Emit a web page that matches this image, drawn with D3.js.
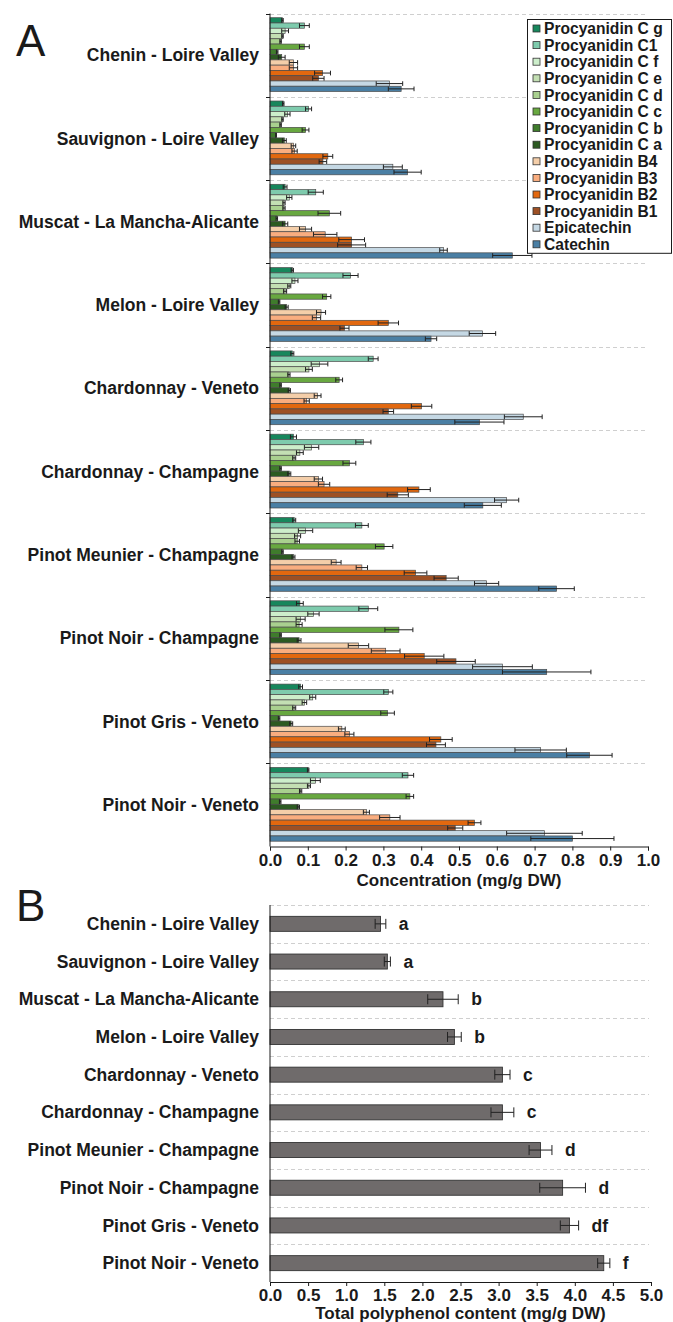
<!DOCTYPE html>
<html>
<head>
<meta charset="utf-8">
<script src="https://cdn.jsdelivr.net/npm/d3@7/dist/d3.min.js"></script>
<style>
  html, body { margin: 0; padding: 0; background: #fff; }
  svg { display: block; }
  text { font-family: "Liberation Sans", Arial, Helvetica, sans-serif; }
</style>
</head>
<body>
<svg id="chart" width="673" height="1322"></svg>
<script>
// Wine samples (cultivar - region), top to bottom
const samples = [
  "Chenin - Loire Valley", "Sauvignon - Loire Valley", "Muscat - La Mancha-Alicante",
  "Melon - Loire Valley", "Chardonnay - Veneto", "Chardonnay - Champagne",
  "Pinot Meunier - Champagne", "Pinot Noir - Champagne", "Pinot Gris - Veneto",
  "Pinot Noir - Veneto"
];

// Compounds, in bar order inside each sample group
const compounds = [
  "Procyanidin C g", "Procyanidin C1", "Procyanidin C f", "Procyanidin C e",
  "Procyanidin C d", "Procyanidin C c", "Procyanidin C b", "Procyanidin C a",
  "Procyanidin B4", "Procyanidin B3", "Procyanidin B2", "Procyanidin B1",
  "Epicatechin", "Catechin"
];
const compoundColors = [
  "#17875c", "#7ecbad", "#cdeecb", "#c3dfb3", "#a9d08f", "#68a840", "#3f7c2c",
  "#2c5a22", "#f4cea9", "#f9ad7f", "#e2680f", "#9d5024", "#c5d8e4", "#4a7fa4"
];

// Mean concentration (mg/g DW), one value per compound in the order above
const chenin             = [0.033, 0.091, 0.040, 0.033, 0.028, 0.091, 0.019, 0.031, 0.062, 0.062, 0.139, 0.128, 0.316, 0.347];
const sauvignon          = [0.035, 0.102, 0.046, 0.033, 0.028, 0.094, 0.016, 0.038, 0.062, 0.065, 0.153, 0.140, 0.325, 0.364];
const muscat             = [0.040, 0.121, 0.051, 0.037, 0.037, 0.157, 0.018, 0.040, 0.094, 0.146, 0.216, 0.216, 0.459, 0.641];
const melon              = [0.059, 0.213, 0.066, 0.051, 0.040, 0.150, 0.024, 0.044, 0.135, 0.123, 0.313, 0.197, 0.562, 0.426];
const chardonnayVeneto   = [0.059, 0.273, 0.131, 0.103, 0.050, 0.183, 0.028, 0.051, 0.126, 0.097, 0.401, 0.313, 0.670, 0.554];
const chardonnayChamp    = [0.062, 0.247, 0.110, 0.079, 0.064, 0.210, 0.028, 0.051, 0.128, 0.143, 0.394, 0.338, 0.626, 0.563];
const pinotMeunier       = [0.064, 0.243, 0.094, 0.073, 0.072, 0.302, 0.033, 0.062, 0.175, 0.243, 0.385, 0.466, 0.573, 0.758];
const pinotNoirChamp     = [0.079, 0.260, 0.115, 0.081, 0.077, 0.341, 0.028, 0.077, 0.234, 0.306, 0.408, 0.492, 0.615, 0.732];
const pinotGris          = [0.081, 0.313, 0.113, 0.091, 0.064, 0.311, 0.024, 0.056, 0.190, 0.210, 0.452, 0.439, 0.716, 0.845];
const pinotNoirVeneto    = [0.101, 0.365, 0.120, 0.103, 0.081, 0.370, 0.027, 0.075, 0.255, 0.317, 0.541, 0.490, 0.726, 0.800];

// Standard deviations, same layout
const cheninSd           = [0.002, 0.013, 0.009, 0.002, 0.002, 0.013, 0.002, 0.009, 0.011, 0.011, 0.021, 0.015, 0.035, 0.034];
const sauvignonSd        = [0.002, 0.008, 0.007, 0.002, 0.002, 0.009, 0.001, 0.005, 0.006, 0.007, 0.013, 0.010, 0.025, 0.036];
const muscatSd           = [0.005, 0.020, 0.007, 0.003, 0.003, 0.030, 0.002, 0.007, 0.016, 0.031, 0.034, 0.037, 0.010, 0.052];
const melonSd            = [0.003, 0.020, 0.008, 0.004, 0.004, 0.011, 0.002, 0.004, 0.012, 0.011, 0.027, 0.012, 0.035, 0.015];
const chardonnayVenetoSd = [0.004, 0.013, 0.022, 0.009, 0.003, 0.009, 0.002, 0.003, 0.009, 0.007, 0.027, 0.014, 0.050, 0.065];
const chardonnayChampSd  = [0.008, 0.020, 0.019, 0.009, 0.004, 0.017, 0.002, 0.004, 0.011, 0.015, 0.030, 0.028, 0.032, 0.049];
const pinotMeunierSd     = [0.004, 0.017, 0.019, 0.008, 0.006, 0.023, 0.002, 0.004, 0.013, 0.015, 0.030, 0.032, 0.032, 0.047];
const pinotNoirChampSd   = [0.009, 0.025, 0.015, 0.012, 0.008, 0.037, 0.002, 0.005, 0.027, 0.038, 0.052, 0.051, 0.079, 0.117];
const pinotGrisSd        = [0.005, 0.012, 0.008, 0.006, 0.004, 0.018, 0.002, 0.004, 0.009, 0.012, 0.030, 0.025, 0.068, 0.060];
const pinotNoirVenetoSd  = [0.002, 0.015, 0.013, 0.004, 0.003, 0.010, 0.002, 0.003, 0.008, 0.027, 0.017, 0.020, 0.100, 0.110];

// Total polyphenol content (mg/g DW) per sample, with SD and significance letters
const totalContent = [1.45, 1.54, 2.27, 2.42, 3.05, 3.05, 3.55, 3.84, 3.93, 4.38];
const totalSd      = [0.07, 0.04, 0.20, 0.09, 0.10, 0.15, 0.15, 0.30, 0.12, 0.08];
const totalLetters = ["a", "a", "b", "b", "c", "c", "d", "d", "df", "f"];

// Axis tick values
const ticksA = [0, 0.1, 0.2, 0.3, 0.4, 0.5, 0.6, 0.7, 0.8, 0.9, 1.0];
const ticksB = [0, 0.5, 1.0, 1.5, 2.0, 2.5, 3.0, 3.5, 4.0, 4.5, 5.0];

const meansBySample = [chenin, sauvignon, muscat, melon, chardonnayVeneto, chardonnayChamp,
  pinotMeunier, pinotNoirChamp, pinotGris, pinotNoirVeneto];
const sdBySample = [cheninSd, sauvignonSd, muscatSd, melonSd, chardonnayVenetoSd, chardonnayChampSd,
  pinotMeunierSd, pinotNoirChampSd, pinotGrisSd, pinotNoirVenetoSd];

const rowsA = [];
samples.forEach((s, i) => compounds.forEach((c, j) => rowsA.push({
  sample: s, compound: c, value: meansBySample[i][j], sd: sdBySample[i][j], color: compoundColors[j]
})));
const rowsB = samples.map((s, i) => ({ sample: s, value: totalContent[i], sd: totalSd[i], letter: totalLetters[i] }));

const svg = d3.select("#chart");
const ink = "#1a1a1a";
const gridColor = "#cfcfcf";
const labelFont = 17.5;

function styleAxis(g) {
  g.select(".domain").attr("stroke", ink);
  g.selectAll(".tick line").attr("stroke", ink);
  g.selectAll(".tick text").attr("fill", ink).attr("font-size", 17)
    .attr("font-weight", "bold").attr("font-family", "Liberation Sans, Arial, sans-serif");
}

// ---------------- Panel A ----------------
const A = { left: 270, right: 648, top: 13.5, bottom: 846.5 };
const xA = d3.scaleLinear().domain([0, 1]).range([A.left, A.right]);
const yA = d3.scaleBand().domain(samples).range([A.top, A.bottom]);
const yInner = d3.scaleBand().domain(compounds).range([4.2, 78]);

const gA = svg.append("g");

// dashed separators at each group top
gA.append("g").selectAll("line").data(samples).join("line")
  .attr("x1", A.left).attr("x2", A.right - 2)
  .attr("y1", d => Math.round(yA(d)) + 0.5).attr("y2", d => Math.round(yA(d)) + 0.5)
  .attr("stroke", gridColor).attr("stroke-width", 1).attr("stroke-dasharray", "4,3");

// bars
gA.append("g").selectAll("rect").data(rowsA).join("rect")
  .attr("x", xA(0))
  .attr("y", d => yA(d.sample) + yInner(d.compound))
  .attr("width", d => xA(d.value) - xA(0))
  .attr("height", yInner.bandwidth())
  .attr("fill", d => d.color)
  .attr("stroke", "#4b4b4b").attr("stroke-width", 0.7);

// error bars (mean ± SD)
const errA = gA.append("g").attr("stroke", "#222").attr("stroke-width", 1).attr("fill", "none");
rowsA.forEach(d => {
  const yc = yA(d.sample) + yInner(d.compound) + yInner.bandwidth() / 2;
  const x1 = xA(d.value - d.sd), x2 = xA(d.value + d.sd);
  const h = yInner.bandwidth() / 2 - 0.3;
  errA.append("path").attr("d",
    `M${x1},${yc}H${x2}M${x1},${yc - h}V${yc + h}M${x2},${yc - h}V${yc + h}`);
});

// y axis line with ticks at the group boundaries
gA.append("line").attr("x1", A.left).attr("x2", A.left).attr("y1", A.top).attr("y2", A.bottom).attr("stroke", ink);
gA.append("g").selectAll("line").data(samples).join("line")
  .attr("x1", A.left - 4).attr("x2", A.left)
  .attr("y1", d => Math.round(yA(d)) + 0.5).attr("y2", d => Math.round(yA(d)) + 0.5)
  .attr("stroke", ink);

// sample labels
gA.append("g").selectAll("text").data(samples).join("text")
  .attr("x", A.left - 11)
  .attr("y", d => yA(d) + yA.bandwidth() / 2)
  .attr("dy", "0.35em")
  .attr("text-anchor", "end")
  .attr("font-size", labelFont).attr("font-weight", "bold").attr("fill", ink)
  .text(d => d);

// x axis
gA.append("g").attr("transform", `translate(0,${A.bottom})`)
  .call(d3.axisBottom(xA).tickValues(ticksA).tickFormat(d3.format(".1f")).tickSize(4).tickPadding(3))
  .call(styleAxis);
gA.append("text")
  .attr("x", (A.left + A.right) / 2).attr("y", A.bottom + 39)
  .attr("text-anchor", "middle").attr("font-size", 17).attr("font-weight", "bold").attr("fill", ink)
  .text("Concentration (mg/g DW)");

// legend
const leg = { x: 527, y: 19, w: 144, step: 16.6 };
const legG = gA.append("g");
legG.append("rect").attr("x", leg.x + 0.5).attr("y", leg.y + 0.5)
  .attr("width", leg.w).attr("height", (compounds.length - 1) * leg.step + 18)
  .attr("fill", "#fff").attr("stroke", ink).attr("stroke-width", 1);
const legItems = legG.selectAll("g.item").data(compounds).join("g").attr("class", "item")
  .attr("transform", (d, i) => `translate(${leg.x + 6},${leg.y + 9.5 + i * leg.step})`);
legItems.append("rect").attr("x", 0).attr("y", -3.5).attr("width", 7).attr("height", 7)
  .attr("fill", (d, i) => compoundColors[i]).attr("stroke", "#333").attr("stroke-width", 0.8);
legItems.append("text").attr("x", 11).attr("y", 0).attr("dy", "0.36em")
  .attr("font-size", 15.6).attr("font-weight", "bold").attr("fill", ink)
  .text(d => d);

// panel letter
svg.append("text").attr("x", 16).attr("y", 56).attr("font-size", 44).attr("fill", ink).text("A");

// ---------------- Panel B ----------------
const B = { left: 270, right: 651, top: 905, bottom: 1282 };
const xB = d3.scaleLinear().domain([0, 5]).range([B.left, B.right]);
const yB = d3.scaleBand().domain(samples).range([B.top, B.bottom]);
const gB = svg.append("g");

gB.append("g").selectAll("line").data(samples).join("line")
  .attr("x1", B.left).attr("x2", B.right - 2)
  .attr("y1", d => Math.round(yB(d)) + 0.5).attr("y2", d => Math.round(yB(d)) + 0.5)
  .attr("stroke", gridColor).attr("stroke-dasharray", "4,3");

const barHB = 15;
gB.append("g").selectAll("rect").data(rowsB).join("rect")
  .attr("x", xB(0))
  .attr("y", d => yB(d.sample) + (yB.bandwidth() - barHB) / 2)
  .attr("width", d => xB(d.value) - xB(0))
  .attr("height", barHB)
  .attr("fill", "#6f6b6b").attr("stroke", "#333").attr("stroke-width", 0.9);

const errB = gB.append("g").attr("stroke", "#222").attr("stroke-width", 1).attr("fill", "none");
rowsB.forEach(d => {
  const yc = yB(d.sample) + yB.bandwidth() / 2;
  const x1 = xB(d.value - d.sd), x2 = xB(d.value + d.sd);
  errB.append("path").attr("d", `M${x1},${yc}H${x2}M${x1},${yc - 5}V${yc + 5}M${x2},${yc - 5}V${yc + 5}`);
});

gB.append("g").selectAll("text").data(rowsB).join("text")
  .attr("x", d => xB(d.value + d.sd) + 13)
  .attr("y", d => yB(d.sample) + yB.bandwidth() / 2)
  .attr("dy", "0.35em")
  .attr("font-size", 17.5).attr("font-weight", "bold").attr("fill", ink)
  .text(d => d.letter);

gB.append("line").attr("x1", B.left).attr("x2", B.left).attr("y1", B.top).attr("y2", B.bottom).attr("stroke", ink);

gB.append("g").selectAll("text").data(samples).join("text")
  .attr("x", B.left - 11)
  .attr("y", d => yB(d) + yB.bandwidth() / 2)
  .attr("dy", "0.35em")
  .attr("text-anchor", "end")
  .attr("font-size", labelFont).attr("font-weight", "bold").attr("fill", ink)
  .text(d => d);

gB.append("g").attr("transform", `translate(0,${B.bottom})`)
  .call(d3.axisBottom(xB).tickValues(ticksB).tickFormat(d3.format(".1f")).tickSize(4).tickPadding(3))
  .call(styleAxis);
gB.append("text")
  .attr("x", (B.left + B.right) / 2).attr("y", B.bottom + 37)
  .attr("text-anchor", "middle").attr("font-size", 17).attr("font-weight", "bold").attr("fill", ink)
  .text("Total polyphenol content (mg/g DW)");

svg.append("text").attr("x", 16).attr("y", 921).attr("font-size", 44).attr("fill", ink).text("B");
</script>
</body>
</html>
